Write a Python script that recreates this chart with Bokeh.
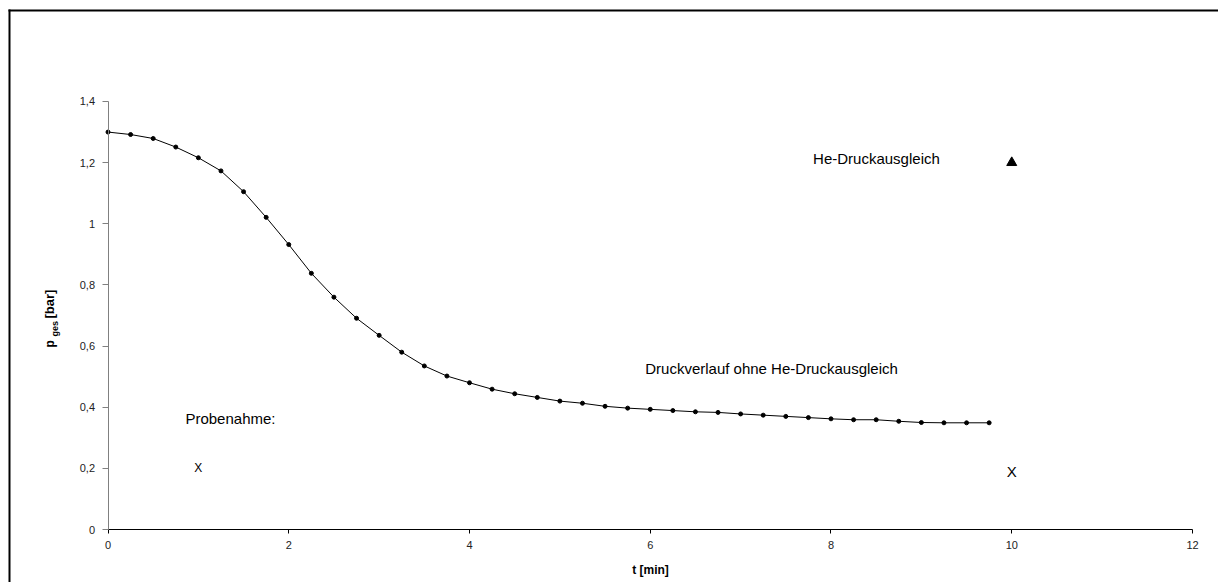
import math
from bokeh.plotting import figure
from bokeh.models import (ColumnDataSource, FixedTicker, CustomJSTickFormatter, Range1d)
from bokeh.core.properties import value
from bokeh.embed import file_html
from bokeh.resources import INLINE

# ---- data ----
t_min = [0.0, 0.25, 0.5, 0.75, 1.0, 1.25, 1.5, 1.75, 2.0, 2.25,
         2.5, 2.75, 3.0, 3.25, 3.5, 3.75, 4.0, 4.25, 4.5, 4.75,
         5.0, 5.25, 5.5, 5.75, 6.0, 6.25, 6.5, 6.75, 7.0, 7.25,
         7.5, 7.75, 8.0, 8.25, 8.5, 8.75, 9.0, 9.25, 9.5, 9.75]
p_ges = [1.300, 1.292, 1.279, 1.251, 1.216, 1.173, 1.105, 1.021, 0.932, 0.838,
         0.760, 0.691, 0.635, 0.580, 0.535, 0.502, 0.480, 0.459, 0.444, 0.432,
         0.420, 0.413, 0.403, 0.397, 0.393, 0.389, 0.385, 0.383, 0.378, 0.374,
         0.370, 0.366, 0.362, 0.359, 0.359, 0.354, 0.350, 0.349, 0.349, 0.349]

he_t = [10.0]
he_p = [1.2]

probe_t = [1.0, 10.0]
probe_p = [0.2, 0.19]
probe_mark = ["X", "X"]

x_ticks = [0, 2, 4, 6, 8, 10, 12]
y_ticks = [0, 0.2, 0.4, 0.6, 0.8, 1.0, 1.2, 1.4]

note_texts = ["He-Druckausgleich", "Druckverlauf ohne He-Druckausgleich", "Probenahme:"]
note_x = [8.503, 7.342, 1.355]
note_y = [1.213, 0.527, 0.363]

ylabel_parts = ["p", "ges", "[bar]"]

FONT = "Liberation Sans"

# frame covers the whole canvas; t=0 at x=107.5px, t=12 at 1192px; p=0 at y=529px, 1.4 at 101px
X0, X1 = -1.1895, 12.2877
Y0, Y1 = -0.17336, 1.73037
p = figure(width=1218, height=582, output_backend="svg", toolbar_location=None,
           title_location=None,
           x_range=Range1d(X0, X1), y_range=Range1d(Y0, Y1),
           min_border_left=0, min_border_right=0, min_border_top=0,
           min_border_bottom=0)
p.outline_line_color = None
p.xgrid.visible = False
p.ygrid.visible = False
p.background_fill_color = "white"
p.border_fill_color = "white"

# axes
p.xaxis.ticker = FixedTicker(ticks=x_ticks)
p.yaxis.ticker = FixedTicker(ticks=y_ticks)
fmt = CustomJSTickFormatter(code="var s = (Math.round(tick*10)/10).toString(); return s.replace('.', ',');")
p.xaxis.formatter = fmt
p.yaxis.formatter = fmt
p.yaxis.fixed_location = 0
p.xaxis.fixed_location = 0
p.xaxis.bounds = (0, 12)
p.yaxis.bounds = (0, 1.4)
for ax in (p.xaxis, p.yaxis):
    ax.minor_tick_line_color = None
    ax.major_tick_in = 0
    ax.major_label_text_font = FONT
    ax.major_label_text_font_size = "11px"
    ax.major_label_text_color = "#222222"
p.xaxis.major_tick_out = 4
p.yaxis.major_tick_out = 6
p.xaxis.axis_line_color = "black"
p.xaxis.major_tick_line_color = "black"
p.yaxis.axis_line_color = "#808080"
p.yaxis.major_tick_line_color = "#808080"
p.xaxis.major_label_standoff = 7
p.yaxis.major_label_standoff = 7
p.xaxis.axis_label = "t [min]"
p.xaxis.axis_label_text_font = FONT
p.xaxis.axis_label_text_font_size = "12px"
p.xaxis.axis_label_text_font_style = "bold"
p.xaxis.axis_label_text_color = "black"
p.xaxis.axis_label_standoff = 11

# outer chart border (left and top edges; right/bottom lie beyond the canvas)
bx = X0 + 9 / 90.375
by = Y1 - 10 / 305.714
p.segment(x0=[bx, bx], y0=[by, by], x1=[X1, bx], y1=[by, Y0],
          line_color="black", line_width=2, line_cap="square")

# curve
src = ColumnDataSource(dict(t=t_min, p=p_ges))
p.line("t", "p", source=src, line_color="black", line_width=1)
p.scatter("t", "p", source=src, marker="circle", size=4, fill_color="black", line_color="black")

# He marker
p.scatter(he_t, he_p, marker="triangle", size=10, fill_color="black", line_color="black")

# probe marks
p.text([probe_t[0]], [probe_p[0]], text=[probe_mark[0]], text_font=value(FONT),
       text_font_size="12px", text_align="center", text_baseline="middle", text_color="black")
p.text([probe_t[1]], [probe_p[1]], text=[probe_mark[1]], text_font=value(FONT),
       text_font_size="15px", text_align="center", text_baseline="middle", text_color="black")

# notes
nsrc = ColumnDataSource(dict(x=note_x, y=note_y, txt=note_texts))
p.text("x", "y", text="txt", source=nsrc, text_font=value(FONT), text_font_size="15px",
       text_align="center", text_baseline="middle", text_color="black")

# y axis label p_ges [bar] (rotated, with subscript)
ang = math.pi / 2
p.text([-0.647], [0.5954], text=[ylabel_parts[0]], angle=ang, text_font=value(FONT),
       text_font_size="12px", text_font_style="bold", text_align="left",
       text_baseline="alphabetic", text_color="black")
p.text([-0.5865], [0.631], text=[ylabel_parts[1]], angle=ang, text_font=value(FONT),
       text_font_size="9px", text_font_style="bold", text_align="left",
       text_baseline="alphabetic", text_color="black")
p.text([-0.647], [0.690], text=[ylabel_parts[2]], angle=ang, text_font=value(FONT),
       text_font_size="13px", text_font_style="bold", text_align="left",
       text_baseline="alphabetic", text_color="black")

open("out.html", "w").write(file_html(p, INLINE))
